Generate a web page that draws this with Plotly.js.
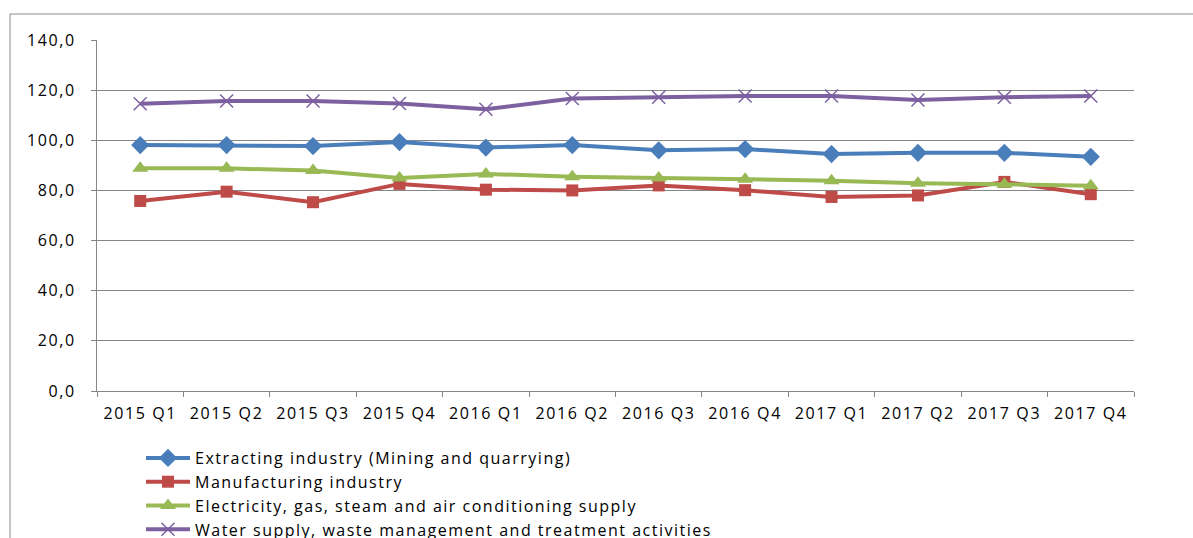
<!DOCTYPE html>
<html>
<head>
<meta charset="utf-8">
<script src="https://cdn.plot.ly/plotly-3.0.1.min.js"></script>
<style>
html,body{margin:0;padding:0;background:#fff;}
#chart{width:1193px;height:538px;}
.xtick text, .ytick text{letter-spacing:1.6px;}
text.legendtext{letter-spacing:1.5px;}
</style>
</head>
<body>
<div id="chart"></div>
<script>
const categories = ["2015 Q1","2015 Q2","2015 Q3","2015 Q4","2016 Q1","2016 Q2","2016 Q3","2016 Q4","2017 Q1","2017 Q2","2017 Q3","2017 Q4"];
const extracting = [98.1, 98.1, 97.7, 99.3, 97.1, 98.1, 96.0, 96.5, 94.5, 95.0, 95.0, 93.4];
const manufacturing = [75.8, 79.5, 75.3, 82.6, 80.3, 80.0, 82.0, 80.1, 77.4, 78.0, 83.4, 78.5];
const electricity = [88.8, 88.8, 87.9, 85.0, 86.6, 85.5, 85.0, 84.5, 83.9, 82.9, 82.5, 81.9];
const water = [114.6, 115.7, 115.7, 114.7, 112.4, 116.7, 117.2, 117.7, 117.7, 116.1, 117.2, 117.7];

const names = [
  "Extracting industry (Mining and quarrying)",
  "Manufacturing industry",
  "Electricity, gas, steam and air conditioning supply",
  "Water supply, waste management and treatment activities"
];
const colors = ["#4A7EBB", "#BE4B48", "#98B954", "#7D60A0"];
const symbols = ["diamond", "square", "triangle-up", "x-thin"];
const sizes = [14, 12, 14, 13];
const series = [extracting, manufacturing, electricity, water];

const traces = series.map((vals, i) => ({
  x: categories,
  y: vals,
  name: names[i],
  type: "scatter",
  mode: "lines+markers",
  line: {color: colors[i], width: 4},
  marker: {
    symbol: symbols[i],
    size: sizes[i],
    color: colors[i],
    line: {color: colors[i], width: i === 3 ? 1.5 : 0}
  }
}));

const L = 97, R = 1134, T = 40, B = 391;
const pw = R - L, ph = B - T;
const bx = (10 - L) / pw;
const by = (B - 14) / ph;
const FONT = "Open Sans, sans-serif";

const layout = {
  width: 1193,
  height: 538,
  margin: {l: L, r: 1193 - R, t: T, b: 538 - B, autoexpand: false},
  paper_bgcolor: "#ffffff",
  plot_bgcolor: "#ffffff",
  separators: ",.",
  font: {family: FONT, size: 16, color: "#000000"},
  showlegend: true,
  legend: {
    orientation: "v",
    x: (141 - L) / pw,
    xanchor: "left",
    y: (B - 441) / ph,
    yanchor: "top",
    font: {family: FONT, size: 16, color: "#000000"},
    tracegroupgap: 0,
    itemwidth: 44,
    bgcolor: "rgba(0,0,0,0)"
  },
  xaxis: {
    type: "category",
    tickson: "boundaries",
    ticks: "outside",
    ticklen: 5,
    tickcolor: "#868686",
    showline: true,
    linecolor: "#868686",
    linewidth: 1,
    showgrid: false,
    zeroline: false,
    tickfont: {family: FONT, size: 16, color: "#000000"},
    ticklabelstandoff: 8,
    range: [-0.5, 11.5],
    fixedrange: true
  },
  yaxis: {
    range: [0, 140],
    dtick: 20,
    tick0: 0,
    tickformat: ".1f",
    ticks: "outside",
    ticklen: 5,
    tickcolor: "#868686",
    showline: true,
    linecolor: "#868686",
    linewidth: 1,
    showgrid: true,
    gridcolor: "#868686",
    gridwidth: 1,
    zeroline: false,
    tickfont: {family: FONT, size: 16, color: "#000000"},
    ticklabelstandoff: 12,
    fixedrange: true
  },
  shapes: [
    {type: "line", xref: "paper", yref: "paper", x0: bx, x1: bx, y0: by, y1: -1, line: {color: "#8c8c8c", width: 1}},
    {type: "line", xref: "paper", yref: "paper", x0: bx, x1: 1.2, y0: by, y1: by, line: {color: "#8c8c8c", width: 1}}
  ]
};

Plotly.newPlot("chart", traces, layout, {staticPlot: true, displayModeBar: false});
</script>
</body>
</html>
